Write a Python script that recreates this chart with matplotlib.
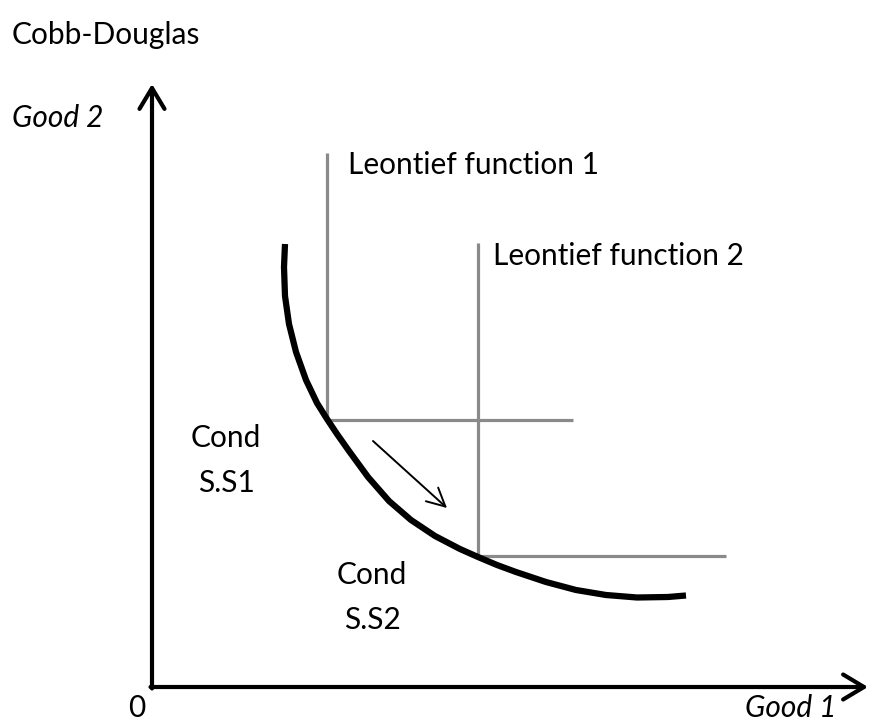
import matplotlib
matplotlib.use("Agg")
import matplotlib.pyplot as plt

# Cobb-Douglas indifference curve (origin at the axis corner)
cd_x = [133, 132, 133, 137, 144, 154, 165, 175, 185, 197, 216, 237, 259, 283,
        308, 326, 345, 364, 394, 424, 454, 485, 516, 534]
cd_y = [443, 420, 391, 363, 335, 307, 284, 268, 253, 236, 210, 186, 167, 151,
        138, 130, 122, 115, 105, 97, 92, 89.5, 90, 91.5]

# Leontief (L-shaped) curves: corner, top of vertical arm, end of horizontal arm
leo_corner_x = [175, 326]
leo_corner_y = [267, 131]
leo_top_y = [534, 444]
leo_right_x = [421, 574]
leo_labels = ["Leontief function 1", "Leontief function 2"]

# axes extent
x_axis_end = 716
y_axis_end = 603

# movement arrow between the two tangency points
move_start = (221, 246)
move_end = (295, 179)

plt.rcParams['font.family'] = ['Lato', 'DejaVu Sans']
fs = 21.5

fig = plt.figure(figsize=(8.72, 7.22), dpi=100)
ax = fig.add_axes([0, 0, 1, 1])
ax.set_xlim(-152, 720)
ax.set_ylim(-35, 687)
ax.axis('off')

grey = '#8a8a8a'
for i in range(len(leo_corner_x)):
    cx, cy = leo_corner_x[i], leo_corner_y[i]
    ax.plot([cx, cx, leo_right_x[i]], [leo_top_y[i], cy, cy], color=grey,
            lw=2.3, solid_joinstyle='miter', solid_capstyle='butt')

ax.plot(cd_x, cd_y, color='black', lw=4.5, solid_capstyle='butt',
        solid_joinstyle='round')

# axes with open arrowheads
head = '->,head_length=0.75,head_width=0.45'
ax.annotate('', xy=(0, y_axis_end), xytext=(0, -1.5),
            arrowprops=dict(arrowstyle=head, lw=3, color='black',
                            mutation_scale=20, shrinkA=0, shrinkB=0))
ax.annotate('', xy=(x_axis_end, 0), xytext=(-1.5, 0),
            arrowprops=dict(arrowstyle=head, lw=3, color='black',
                            mutation_scale=20, shrinkA=0, shrinkB=0))

ax.annotate('', xy=move_end, xytext=move_start,
            arrowprops=dict(arrowstyle='->,head_length=0.65,head_width=0.33',
                            lw=1.4, color='black', mutation_scale=20,
                            shrinkA=0, shrinkB=0))

# labels
ax.text(-140, 652, "Cobb-Douglas", fontsize=fs, va='center', ha='left')
ax.text(-140, 569, "Good 2", fontsize=fs, style='italic', va='center', ha='left')
ax.text(196, 522, leo_labels[0], fontsize=fs, va='center', ha='left')
ax.text(341, 431, leo_labels[1], fontsize=fs, va='center', ha='left')
ax.text(74, 249, "Cond", fontsize=fs, va='center', ha='center')
ax.text(74, 204, "S.S1", fontsize=fs, va='center', ha='center')
ax.text(220, 112, "Cond", fontsize=fs, va='center', ha='center')
ax.text(220, 67, "S.S2", fontsize=fs, va='center', ha='center')
ax.text(-15, -21, "0", fontsize=fs, va='center', ha='center')
ax.text(684, -21, "Good 1", fontsize=fs, style='italic', va='center', ha='right')

fig.savefig('out.png', dpi=100)
